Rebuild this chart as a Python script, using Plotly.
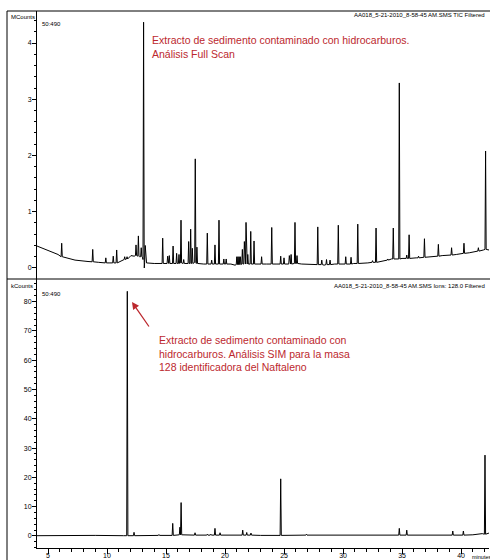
import plotly.graph_objects as go

# ---------------- data ----------------
# Top panel: TIC full scan (MCounts)
top_base_t = [4.07, 5.17, 5.85, 6.53, 7.29, 8.39, 9.3, 9.83, 10.25, 11.2, 11.44, 12.03, 12.3,
              12.75, 13.0, 13.16, 13.35, 14.0, 15.0, 16.7, 18.2, 19.7, 20.5, 20.85, 22.8,
              23.5, 24.4, 26.5, 27.3, 28.4, 29.3, 30.9, 32.1, 33.5, 34.1, 35.0, 36.2,
              37.5, 38.4, 39.6, 40.7, 41.2, 41.9, 42.37]
top_base_v = [0.39, 0.30, 0.24, 0.18, 0.14, 0.115, 0.10, 0.095, 0.09, 0.12, 0.15, 0.22, 0.21,
              0.20, 0.19, 0.0, 0.09, 0.08, 0.08, 0.08, 0.07, 0.07, 0.07, 0.05, 0.07,
              0.07, 0.07, 0.07, 0.06, 0.05, 0.07, 0.08, 0.09, 0.13, 0.16, 0.17, 0.18,
              0.20, 0.22, 0.24, 0.27, 0.29, 0.32, 0.32]
top_peak_t = [6.16, 8.79, 9.9, 10.53, 10.82, 11.5, 11.7, 12.46, 12.66, 12.9, 13.1, 13.24,
              14.72, 15.14, 15.28, 15.6, 15.9, 16.1, 16.27, 16.5, 16.92, 17.09, 17.23, 17.48,
              17.62, 18.5, 18.87, 19.15, 19.49, 19.9, 20.1, 21.0, 21.1, 21.2, 21.3, 21.47,
              21.64, 21.78, 21.93, 22.18, 22.46, 23.1, 23.96, 24.72, 25.0, 25.45, 25.6, 25.93,
              26.1, 27.86, 28.2, 28.6, 28.9, 29.6, 30.23, 30.68, 31.25, 32.5, 32.8, 33.8,
              34.26, 34.77, 35.4, 35.6, 36.4, 36.9, 38.08, 39.2, 40.25, 41.47, 42.08]
top_peak_apex = [0.44, 0.33, 0.18, 0.21, 0.32, 0.20, 0.20, 0.41, 0.57, 0.36, 4.37, 0.40,
                 0.53, 0.21, 0.22, 0.39, 0.26, 0.24, 0.85, 0.15, 0.47, 0.69, 0.35, 1.94,
                 0.37, 0.62, 0.14, 0.41, 0.85, 0.16, 0.16, 0.20, 0.20, 0.20, 0.20, 0.33,
                 0.47, 0.81, 0.24, 0.65, 0.48, 0.20, 0.72, 0.21, 0.18, 0.22, 0.24, 0.81,
                 0.22, 0.73, 0.14, 0.15, 0.14, 0.76, 0.20, 0.19, 0.78, 0.13, 0.71, 0.16,
                 0.71, 3.29, 0.23, 0.59, 0.21, 0.52, 0.42, 0.36, 0.44, 0.36, 2.08]
top_peak_foot = [0.20, 0.11, 0.09, 0.09, 0.09, 0.15, 0.16, 0.22, 0.21, 0.20, 0.15, 0.10,
                 0.08, 0.08, 0.08, 0.08, 0.08, 0.08, 0.09, 0.08, 0.08, 0.08, 0.08, 0.10,
                 0.08, 0.07, 0.07, 0.07, 0.07, 0.07, 0.07, 0.06, 0.06, 0.06, 0.06, 0.07,
                 0.07, 0.07, 0.07, 0.07, 0.07, 0.07, 0.07, 0.07, 0.07, 0.07, 0.07, 0.08,
                 0.08, 0.06, 0.06, 0.06, 0.06, 0.07, 0.07, 0.07, 0.08, 0.10, 0.10, 0.14,
                 0.16, 0.16, 0.17, 0.17, 0.18, 0.19, 0.21, 0.23, 0.26, 0.30, 0.33]

# Bottom panel: SIM ion 128 (kCounts)
bot_base_t = [4.07, 7.0, 9.0, 11.4, 13.0, 14.0, 15.0, 16.8, 20.0, 23.0, 27.5, 30.0,
              33.0, 37.0, 41.0, 41.8, 42.37]
bot_base_v = [0.1, 0.3, 0.2, 0.1, 0.1, 0.2, 0.2, 0.3, 0.3, 0.2, 0.3, 0.2,
              0.3, 0.3, 0.4, 0.8, 1.0]
bot_peak_t = [11.72, 12.29, 14.4, 15.57, 16.18, 16.28, 17.46, 18.5, 18.8, 19.15, 19.58,
              20.3, 20.7, 21.5, 21.84, 22.2, 24.72, 26.9, 32.2, 34.77, 35.4, 38.3, 39.3,
              40.2, 42.03]
bot_peak_apex = [83.5, 1.25, 0.5, 4.3, 3.0, 11.4, 1.1, 0.6, 0.6, 2.6, 1.1,
                 0.5, 0.5, 2.0, 1.2, 1.0, 19.5, 0.6, 0.4, 2.6, 2.0, 0.5, 1.7,
                 1.7, 27.6]
bot_peak_foot = [0.1, 0.1, 0.2, 0.2, 0.4, 0.4, 0.3, 0.3, 0.3, 0.3, 0.3,
                 0.3, 0.3, 0.3, 0.3, 0.3, 0.2, 0.3, 0.2, 0.3, 0.3, 0.3, 0.3,
                 0.3, 0.6]

x_ticks = [5, 10, 15, 20, 25, 30, 35, 40]
top_y_ticks = [0, 1, 2, 3, 4]
bot_y_ticks = [0, 10, 20, 30, 40, 50, 60, 70, 80]

# ---------------- helpers ----------------
W, H = 490, 560
def px(x):
    return x / W
def py(y):
    return 1 - y / H

def build(bt, bv, pt, pa, pf, w=0.05):
    pts = list(zip(bt, bv))
    for t, a, f in zip(pt, pa, pf):
        pts += [(t - w, f), (t, a), (t + w, f)]
    pts.sort(key=lambda p: p[0])
    return [p[0] for p in pts], [p[1] for p in pts]

tx, ty = build(top_base_t, top_base_v, top_peak_t, top_peak_apex, top_peak_foot)
bx, by = build(bot_base_t, bot_base_v, bot_peak_t, bot_peak_apex, bot_peak_foot)

FONT = "Liberation Sans, Arial, sans-serif"
RED = "#bc282e"

fig = go.Figure()
fig.add_trace(go.Scatter(x=tx, y=ty, mode="lines", xaxis="x", yaxis="y",
                         line=dict(color="black", width=1), hoverinfo="skip"))
fig.add_trace(go.Scatter(x=bx, y=by, mode="lines", xaxis="x", yaxis="y2",
                         line=dict(color="black", width=1), hoverinfo="skip"))

axis_common = dict(showgrid=False, zeroline=False, showline=True, linecolor="black",
                   linewidth=1, ticks="outside", tickcolor="black", tickwidth=1,
                   tickfont=dict(family=FONT, size=7, color="black"))

fig.update_layout(
    width=W, height=H,
    margin=dict(l=0, r=0, t=0, b=0),
    paper_bgcolor="white", plot_bgcolor="white",
    showlegend=False,
    font=dict(family=FONT, color="black"),
    xaxis=dict(domain=[px(37), px(489)], range=[4.068, 42.37], anchor="y2",
               tickvals=x_ticks, ticklen=5, ticklabelstandoff=-4,
               minor=dict(dtick=1, tick0=0, ticklen=3, ticks="outside", tickcolor="black"),
               **axis_common),
    yaxis=dict(domain=[py(279), py(11)], range=[-0.196, 4.569], anchor="x",
               tickvals=top_y_ticks, ticklen=4, ticklabelstandoff=-1,
               minor=dict(dtick=0.2, tick0=0, ticklen=2, ticks="outside", tickcolor="black"),
               **axis_common),
    yaxis2=dict(domain=[py(548), py(279)], range=[-4.1, 87.7], anchor="x",
                tickvals=bot_y_ticks, ticklen=4, ticklabelstandoff=-1,
                minor=dict(dtick=2, tick0=0, ticklen=2, ticks="outside", tickcolor="black"),
                **axis_common),
)

# frame lines
line_style = dict(color="black", width=1)
fig.add_shape(type="line", xref="paper", yref="paper", x0=px(7), x1=1, y0=py(11), y1=py(11), line=line_style)
fig.add_shape(type="line", xref="paper", yref="paper", x0=px(7), x1=px(7), y0=py(11), y1=0, line=line_style)
fig.add_shape(type="line", xref="paper", yref="paper", x0=px(7), x1=1, y0=py(279), y1=py(279), line=line_style)

def txt(x, y, s, size=6.5, color="black", xanchor="left"):
    fig.add_annotation(x=px(x), y=py(y), xref="paper", yref="paper", text=s,
                       showarrow=False, xanchor=xanchor, yanchor="middle",
                       font=dict(family=FONT, size=size, color=color))

txt(9, 17, "MCounts", 6)
txt(9, 286, "kCounts", 6)
txt(40, 24, "50:490", 6)
txt(40, 294, "50:490", 6)
txt(487, 15, "AA018_5-21-2010_8-58-45 AM.SMS TIC Filtered", 6, xanchor="right")
txt(487, 286, "AA018_5-21-2010_8-58-45 AM.SMS Ions: 128.0 Filtered", 6, xanchor="right")
txt(470, 557, "minutes", 5.5)

txt(150, 40, "Extracto de sedimento contaminado con hidrocarburos.", 10.5, RED)
txt(150, 54, "Análisis Full Scan", 10.5, RED)
txt(157, 340, "Extracto de sedimento contaminado con", 10.5, RED)
txt(157, 354, "hidrocarburos. Análisis SIM para la masa", 10.5, RED)
txt(157, 367, "128 identificadora del Naftaleno", 10.5, RED)

fig.add_annotation(x=px(132), y=py(302), xref="paper", yref="paper",
                   ax=18, ay=26, axref="pixel", ayref="pixel",
                   text="", showarrow=True, arrowhead=2, arrowsize=1.1,
                   arrowwidth=1.3, arrowcolor=RED)

fig.write_html("out.html", config={"displayModeBar": False},
               post_script="document.body.style.margin='0';document.body.style.overflow='hidden';")
